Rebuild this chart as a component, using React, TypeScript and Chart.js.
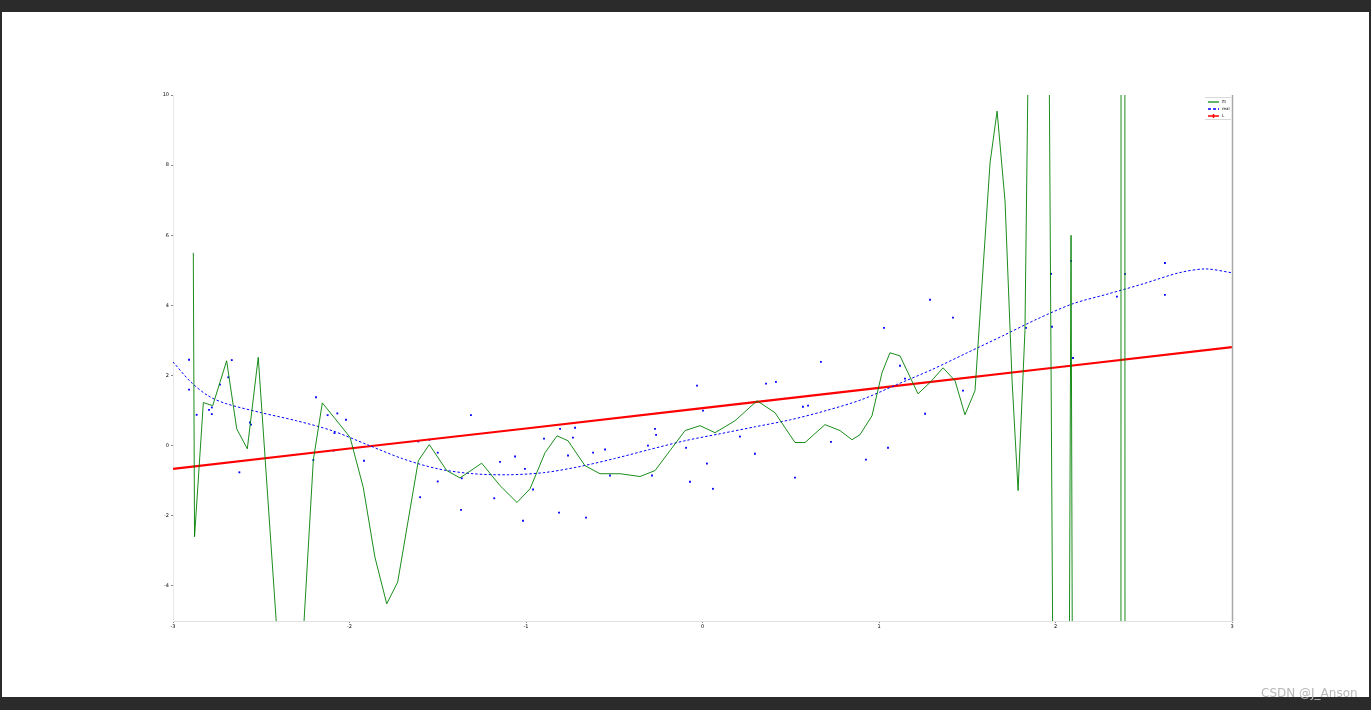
import React, { useEffect, useRef } from "react";
import { Chart, registerables } from "chart.js";

Chart.register(...registerables);

const xTicks = [-3, -2, -1, 0, 1, 2, 3];
const yTicks = [-4, -2, 0, 2, 4, 6, 8, 10];

const legendLabels = ["fit", "real", "L"];

// sample data points (blue)
const dataX = [
  -2.909, -2.909, -2.866, -2.796, -2.78, -2.78, -2.734, -2.687, -2.667, -2.624, -2.564, -2.558,
  -2.205, -2.19, -2.124, -2.069, -2.02, -2.09, -2.085, -1.918, -1.61, -1.6, -1.547, -1.5, -1.5,
  -1.368, -1.364, -1.312, -1.18, -1.147, -1.062, -1.017, -1.006, -0.96, -0.898, -0.813, -0.807,
  -0.762, -0.734, -0.722, -0.66, -0.62, -0.552, -0.524, -0.309, -0.286, -0.269, -0.263, -0.093,
  -0.071, -0.031, 0.003, 0.025, 0.059, 0.212, 0.297, 0.36, 0.416, 0.524, 0.569, 0.598, 0.671,
  0.728, 0.926, 1.028, 1.051, 1.119, 1.147, 1.261, 1.289, 1.419, 1.476, 1.833, 1.975, 1.98,
  2.088, 2.099, 2.348, 2.394, 2.62, 2.62,
];
const dataY = [
  2.45, 1.6, 0.88, 1.02, 0.9, 1.09, 1.74, 1.95, 2.44, -0.76, 0.66, 0.6,
  -0.41, 1.38, 0.87, 0.92, 0.74, -0.14, 0.36, -0.43, 0.12, -1.47, 0.17, -0.2, -1.02,
  -1.83, -0.93, 0.87, -1.5, -0.46, -0.31, -2.14, -0.66, -1.25, 0.2, -1.91, 0.48,
  -0.28, 0.23, 0.51, -2.05, -0.2, -0.11, -0.85, 0.0, -0.85, 0.48, 0.31, -0.06,
  -1.03, 1.71, 1.0, -0.51, -1.23, 0.26, -0.23, 1.77, 1.82, -0.91, 1.11, 1.14, 2.39,
  0.11, -0.4, 3.36, -0.06, 2.28, 1.91, 0.91, 4.16, 3.65, 1.57, 3.36, 4.9, 3.39,
  5.27, 2.5, 4.25, 4.9, 5.21, 4.3,
];

// smooth fit (blue dashed)
const smoothX = [-3, -2.9, -2.8, -2.7, -2.5, -2.3, -2.1, -1.9, -1.7, -1.5, -1.3, -1.1, -0.9, -0.7, -0.5, -0.3, -0.1, 0.1, 0.3, 0.5, 0.7, 0.9, 1.1, 1.3, 1.5, 1.7, 1.9, 2.1, 2.3, 2.5, 2.7, 2.85, 3.0];
const smoothY = [2.39, 1.82, 1.42, 1.2, 0.94, 0.71, 0.43, 0.03, -0.37, -0.66, -0.8, -0.83, -0.77, -0.6, -0.37, -0.11, 0.14, 0.34, 0.54, 0.74, 1.0, 1.31, 1.74, 2.17, 2.65, 3.13, 3.62, 4.05, 4.33, 4.62, 4.93, 5.04, 4.93];

// high-degree fit (green)
const overX = [
  -2.885, -2.878, -2.828, -2.775, -2.696, -2.639, -2.579, -2.517, -2.399, -2.326, -2.269, -2.205,
  -2.154, -1.997, -1.922, -1.856, -1.789, -1.727, -1.61, -1.548, -1.449, -1.374, -1.251, -1.147,
  -1.051, -0.977, -0.892, -0.824, -0.762, -0.666, -0.581, -0.467, -0.354, -0.269, -0.184, -0.099,
  -0.014, 0.071, 0.184, 0.309, 0.411, 0.524, 0.581, 0.694, 0.779, 0.847, 0.892, 0.96, 1.017,
  1.062, 1.119, 1.221, 1.289, 1.363, 1.431, 1.487, 1.544, 1.629, 1.669, 1.714, 1.754, 1.788,
  1.827, 1.89, 1.941, 2.014, 2.059, 2.088, 2.11, 2.36, 2.382, 2.405, 2.705, 3.0,
];
const overY = [
  5.5, -2.6, 1.23, 1.14, 2.42, 0.48, -0.09, 2.52, -6.2, -7.5, -6, -0.41,
  1.22, 0.24, -1.19, -3.18, -4.51, -3.89, -0.43, 0.03, -0.71, -0.92, -0.5, -1.14,
  -1.62, -1.23, -0.2, 0.28, 0.14, -0.57, -0.8, -0.8, -0.88, -0.71, -0.14, 0.43,
  0.57, 0.37, 0.71, 1.28, 0.94, 0.09, 0.09, 0.6, 0.43, 0.17, 0.31, 0.85, 2.08,
  2.65, 2.56, 1.48, 1.8, 2.22, 1.85, 0.88, 1.57, 8.06, 9.54, 6.98, 1.85, -1.28,
  3.28, 30, 30, -30, -30, 6, -30, -300, 300, -300, -2000, -5000,
];

// linear fit (red)
const linX = [-3, -2, -1, 0, 1, 2, 3];
const linY = [-0.66, -0.08, 0.49, 1.07, 1.65, 2.23, 2.81];

const pts = (xs: number[], ys: number[]) => xs.map((x, i) => ({ x, y: ys[i] }));

const framePlugin = {
  id: "frame",
  afterDatasetsDraw(chart: any) {
    const { ctx, chartArea } = chart;
    const { right, top, bottom } = chartArea;
    ctx.save();
    ctx.strokeStyle = "#a8a8a8";
    ctx.lineWidth = 1.5;
    ctx.beginPath();
    ctx.moveTo(right + 0.5, top);
    ctx.lineTo(right + 0.5, bottom);
    ctx.stroke();

    // legend
    const lx = 1205;
    const ly = 97;
    const w = 26;
    const h = 23;
    ctx.fillStyle = "#ffffff";
    ctx.fillRect(lx, ly, w, h);
    ctx.strokeStyle = "#d8d8d8";
    ctx.lineWidth = 1;
    ctx.beginPath();
    ctx.moveTo(lx, ly + 0.5);
    ctx.lineTo(lx + w, ly + 0.5);
    ctx.moveTo(lx, ly + h - 0.5);
    ctx.lineTo(lx + w, ly + h - 0.5);
    ctx.stroke();
    const colors = ["#008000", "#0000ff", "#ff0000"];
    const dashes = [[], [3, 2], []];
    const widths = [1.2, 1.3, 1.5];
    ctx.font = "4px 'DejaVu Sans'";
    ctx.textBaseline = "middle";
    for (let i = 0; i < 3; i++) {
      const yy = ly + 5 + i * 7;
      ctx.strokeStyle = colors[i];
      ctx.lineWidth = widths[i];
      ctx.setLineDash(dashes[i]);
      ctx.beginPath();
      ctx.moveTo(lx + 3, yy);
      ctx.lineTo(lx + 14, yy);
      ctx.stroke();
      ctx.setLineDash([]);
      if (i === 2) {
        ctx.beginPath();
        ctx.moveTo(lx + 8.5, yy - 2);
        ctx.lineTo(lx + 8.5, yy + 2);
        ctx.stroke();
      }
      ctx.fillStyle = "#000";
      ctx.fillText(legendLabels[i], lx + 17, yy);
    }
    ctx.restore();
  },
};

export default function App() {
  const ref = useRef<HTMLCanvasElement | null>(null);

  useEffect(() => {
    if (!ref.current) return;
    const chart = new Chart(ref.current, {
      type: "scatter",
      data: {
        datasets: [
          {
            label: "over",
            data: pts(overX, overY),
            showLine: true,
            borderColor: "#008000",
            borderWidth: 0.9,
            pointRadius: 0,
            tension: 0,
            clip: 0,
          } as any,
          {
            label: "smooth",
            data: pts(smoothX, smoothY),
            showLine: true,
            borderColor: "#0000ff",
            borderWidth: 1,
            borderDash: [2.5, 2],
            pointRadius: 0,
            tension: 0.3,
            clip: 0,
          } as any,
          {
            label: "linear",
            data: pts(linX, linY),
            showLine: true,
            borderColor: "#ff0000",
            borderWidth: 2.2,
            pointRadius: 0,
            clip: 0,
          } as any,
          {
            label: "data",
            data: pts(dataX, dataY),
            showLine: false,
            backgroundColor: "#0000ff",
            borderColor: "#0000ff",
            borderWidth: 0,
            pointStyle: "rect",
            pointRadius: 1.3,
          } as any,
        ],
      },
      options: {
        animation: false,
        responsive: false,
        maintainAspectRatio: false,
        events: [],
        layout: { padding: { left: 0, top: 95, right: 139, bottom: 0 } },
        plugins: { legend: { display: false }, tooltip: { enabled: false } },
        scales: {
          x: {
            type: "linear",
            min: -3,
            max: 3,
            afterFit: (s: any) => {
              s.height = 89;
            },
            afterBuildTicks: (s: any) => {
              s.ticks = xTicks.map((v) => ({ value: v }));
            },
            ticks: {
              font: { size: 5, family: "DejaVu Sans" },
              color: "#000",
              padding: 1,
              maxRotation: 0,
              autoSkip: false,
            },
            grid: { display: true, drawOnChartArea: false, drawTicks: true, tickLength: 2, color: "#888" },
            border: { display: true, color: "#e0e0e0", width: 1 },
          },
          y: {
            type: "linear",
            min: -5,
            max: 10,
            afterFit: (s: any) => {
              s.width = 173;
            },
            afterBuildTicks: (s: any) => {
              s.ticks = yTicks.map((v) => ({ value: v }));
            },
            ticks: {
              font: { size: 5, family: "DejaVu Sans" },
              color: "#000",
              padding: 2,
              autoSkip: false,
            },
            grid: { display: true, drawOnChartArea: false, drawTicks: true, tickLength: 2, color: "#888" },
            border: { display: true, color: "#e8e8e8", width: 1 },
          },
        },
      },
      plugins: [framePlugin],
    });
    return () => chart.destroy();
  }, []);

  return (
    <div style={{ position: "fixed", left: 0, top: 0, width: 1371, height: 710, background: "#2b2b2b", overflow: "hidden" }}>
      <div style={{ position: "absolute", left: 2, top: 12, width: 1367, height: 685, background: "#ffffff" }} />
      <canvas ref={ref} width={1371} height={710} style={{ position: "absolute", left: 0, top: 0, width: 1371, height: 710 }} />
      <div
        style={{
          position: "absolute",
          left: 1261,
          top: 686,
          fontFamily: "'DejaVu Sans', sans-serif",
          fontSize: 12,
          color: "#b8b8b8",
          whiteSpace: "nowrap",
        }}
      >
        CSDN @J_Anson
      </div>
    </div>
  );
}
